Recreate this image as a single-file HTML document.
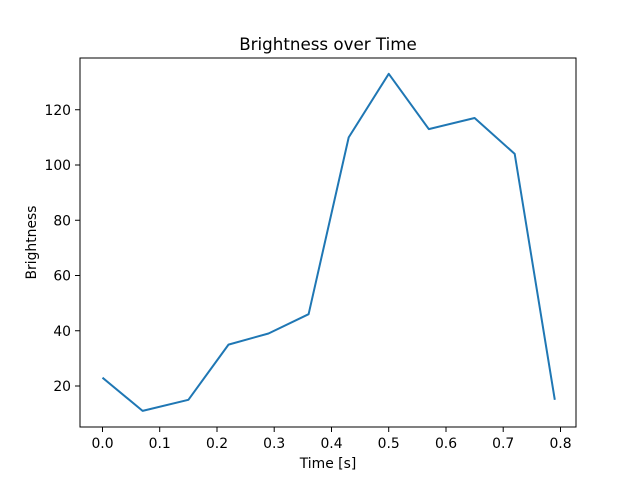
<!DOCTYPE html>
<html><head><style>body{margin:0;background:#fff}svg{display:block}text{font-family:"DejaVu Sans","Liberation Sans",sans-serif;fill:#000}</style></head>
<body>
<svg width="640" height="480" viewBox="0 0 640 480">
<rect width="640" height="480" fill="#fff"/>
<polyline fill="none" stroke="#1f77b4" stroke-width="2" stroke-linejoin="round" points="102.5,377.7 142.6,410.9 188.4,399.8 228.5,344.6 268.5,333.5 308.6,314.2 348.7,137.4 388.75,73.8 428.8,129.1 474.6,118 514.7,153.9 554.8,399.8"/>
<rect x="80" y="58" width="496" height="369" fill="none" stroke="#000" stroke-width="1"/>
<g stroke="#000" stroke-width="1">
<line x1="102.5" y1="427" x2="102.5" y2="432"/><line x1="159.7" y1="427" x2="159.7" y2="432"/><line x1="217" y1="427" x2="217" y2="432"/><line x1="274.2" y1="427" x2="274.2" y2="432"/><line x1="331.5" y1="427" x2="331.5" y2="432"/><line x1="388.7" y1="427" x2="388.7" y2="432"/><line x1="446" y1="427" x2="446" y2="432"/><line x1="503.2" y1="427" x2="503.2" y2="432"/><line x1="560.5" y1="427" x2="560.5" y2="432"/>
<line x1="75" y1="386" x2="80" y2="386"/><line x1="75" y1="330.75" x2="80" y2="330.75"/><line x1="75" y1="275.5" x2="80" y2="275.5"/><line x1="75" y1="220.25" x2="80" y2="220.25"/><line x1="75" y1="165" x2="80" y2="165"/><line x1="75" y1="109.75" x2="80" y2="109.75"/>
</g>
<g font-size="13.9" text-anchor="middle">
<text x="102.5" y="448">0.0</text><text x="159.7" y="448">0.1</text><text x="217" y="448">0.2</text><text x="274.2" y="448">0.3</text><text x="331.5" y="448">0.4</text><text x="388.7" y="448">0.5</text><text x="446" y="448">0.6</text><text x="503.2" y="448">0.7</text><text x="560.5" y="448">0.8</text>
</g>
<g font-size="13.9" text-anchor="end">
<text x="71" y="391">20</text><text x="71" y="335.8">40</text><text x="71" y="280.5">60</text><text x="71" y="225.3">80</text><text x="71" y="170">100</text><text x="71" y="114.8">120</text>
</g>
<text x="328" y="468" font-size="13.9" text-anchor="middle">Time [s]</text>
<text transform="translate(36,242.5) rotate(-90)" font-size="13.9" text-anchor="middle">Brightness</text>
<text x="328" y="50" font-size="16.7" text-anchor="middle">Brightness over Time</text>
</svg>
</body></html>
